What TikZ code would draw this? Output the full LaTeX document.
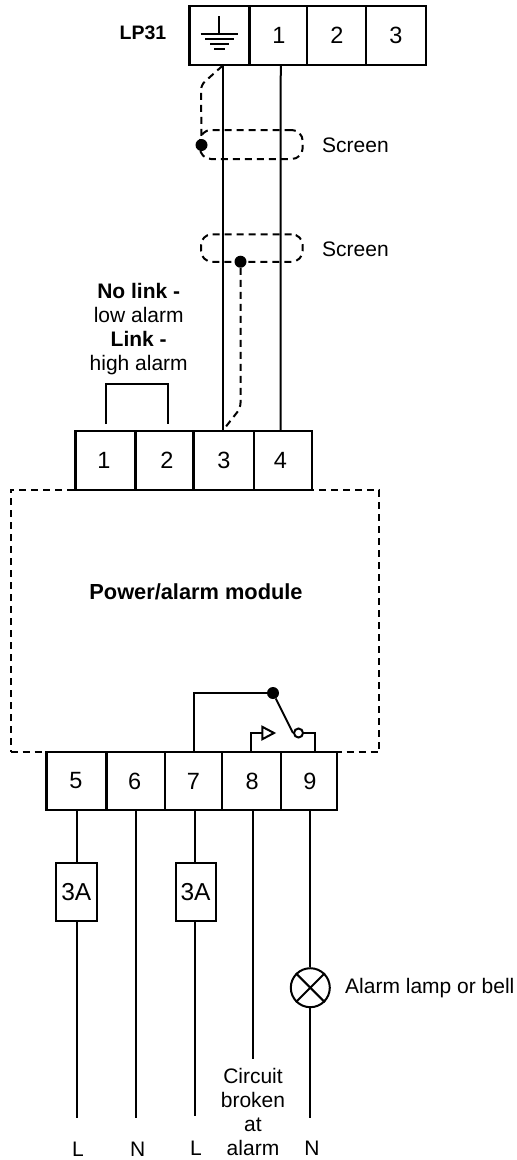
\documentclass[tikz,border=0pt]{standalone}
\usepackage{fontspec}
\setmainfont{Liberation Sans}
\tikzset{
  wire/.style={line width=2pt,line cap=butt},
  dashwire/.style={line width=2pt,dash pattern=on 7pt off 5pt},
  term/.style={draw,fill=white,line width=2.1pt,minimum height=58.5pt,inner sep=0pt,font=\fontsize{23.5}{24}\selectfont},
  fuse/.style={draw,fill=white,line width=2pt,minimum height=58.5pt,minimum width=40pt,inner sep=0pt,font=\fontsize{24.5}{24}\selectfont},
  lab/.style={inner sep=0pt,font=\fontsize{21}{24}\selectfont,align=center},
  screenloop/.style={draw,dashwire,rounded corners=11pt,inner sep=0pt},
  blob/.style={circle,fill=black,draw=none,minimum size=12pt,inner sep=0pt},
  hollow/.style={circle,fill=white,draw=black,line width=2pt,minimum size=9pt,inner sep=0pt},
}
\begin{document}
\begin{tikzpicture}[x=1pt,y=-1pt]
\useasboundingbox (0,0) rectangle (517,1160);
% module outline
\node[draw,dashwire,inner sep=0pt,minimum width=368.5pt,minimum height=262.3pt] (module) at (194.75,620.85) {};
\node[lab,font=\fontsize{21.8}{24}\selectfont\bfseries] (modtext) at (196,592) {Power/alarm module};
% top terminals
\node[term,minimum width=60pt] (tg) at (219.5,35.5) {};
\node[term,minimum width=57.5pt] (t1) at (278.25,35.5) {\kern1.5pt 1};
\node[term,minimum width=58.7pt] (t2) at (336.35,35.5) {\kern1pt 2};
\node[term,minimum width=60pt] (t3) at (395.7,35.5) {\kern.5pt 3};
\node[lab,font=\fontsize{19.5}{24}\selectfont\bfseries] (lp) at (143,33) {LP31};
% earth symbol
\coordinate (e0) at (219.3,16);
\coordinate (e1) at (219.3,34);
\draw[wire,line width=1.7pt] (e0) -- (e1);
\draw[wire,line width=1.7pt] (200.7,34) -- (238.3,34) (205,38.8) -- (234,38.8) (210,43.8) -- (229,43.8) (214,49) -- (225,49);
% mid terminals
\node[term,minimum width=60pt] (m1) at (105.5,460.6) {\kern-3pt 1};
\node[term,minimum width=58pt] (m2) at (164.5,460.6) {\kern5pt 2};
\node[term,minimum width=60.5pt] (m3) at (223.75,460.6) {\kern.5pt 3};
\node[term,minimum width=57.7pt] (m4) at (282.85,460.6) {\kern-5pt 4};
% bottom terminals
\node[term,minimum width=60pt] (b5) at (76.5,781) {\kern-1pt 5};
\node[term,minimum width=58.2pt] (b6) at (135.6,781) {\kern-2pt 6};
\node[term,minimum width=57.6pt] (b7) at (193.5,781) {7};
\node[term,minimum width=58.4pt] (b8) at (251.5,781) {\kern1.5pt 8};
\node[term,minimum width=56.3pt] (b9) at (308.85,781) {\kern2pt 9};
% cable wires
\draw[wire] ([xshift=3.5pt]tg.south) -- ([xshift=-.75pt]m3.north);
\draw[wire] ([xshift=2.5pt]t1.south) -- ([xshift=-2.2pt]m4.north);
% screens
\node[screenloop,minimum width=102.7pt,minimum height=29pt] (s1) at (251.35,144.5) {};
\node[screenloop,minimum width=101.7pt,minimum height=27.5pt] (s2) at (251.85,248) {};
\node[blob] (d1) at (201.5,145) {};
\node[blob] (d2) at (240.5,261.7) {};
\node[lab] (st1) at (355.5,145) {Screen};
\node[lab] (st2) at (355.5,249) {Screen};
% screen drains
\coordinate (c1) at (201,85);
\coordinate (c2) at (240.5,408);
\draw[dashwire,rounded corners=5pt] ([xshift=3pt]tg.south) -- (c1) -- (d1);
\draw[dashwire,rounded corners=5pt] (d2) -- (c2) -- ([xshift=-.75pt]m3.north);
% link
\node[lab] (linklab) at (138.7,329) {\textbf{No link -}\\low alarm\\\textbf{Link -}\\high alarm};
\coordinate (la) at (105.7,424);
\coordinate (lb) at (168.3,424);
\draw[wire] (la) |- (136,384) -| (lb);
% switch
\node[blob] (sw) at (273,693) {};
\node[hollow] (ct) at (298.5,733) {};
\coordinate (tr) at (262.3,733);
\draw[wire] (b7.north) |- (sw);
\draw[wire] (sw) -- (ct.west);
\draw[wire] (ct.east) -| ([xshift=6pt]b9.north);
\draw[wire] ([xshift=-.5pt]b8.north) |- (tr);
\draw[fill=white,line width=2pt,line join=miter] (tr) ++(0,-6.2) -- ++(11.7,6.2) -- ++(-11.7,6.2) -- cycle;
% fuses
\node[fuse,minimum width=41.3pt] (f1) at (76.35,891.8) {3A};
\node[fuse] (f2) at (195.5,891.8) {3A};
\node[circle,draw,line width=2pt,fill=white,minimum size=39pt,inner sep=0pt] (lamp) at (310.3,987.7) {};
\draw[wire] (lamp.45) -- (lamp.225) (lamp.135) -- (lamp.315);
\coordinate (l5) at (77.3,1118);
\coordinate (l6) at (136.3,1118);
\coordinate (l7) at (195.3,1116);
\coordinate (l8) at (253,1059);
\coordinate (l9) at (310.3,1118);
\draw[wire] (b5.south -| l5) -- (f1.north -| l5);
\draw[wire] (f1.south -| l5) -- (l5);
\draw[wire] (b6.south -| l6) -- (l6);
\draw[wire] (b7.south -| l7) -- (f2.north -| l7);
\draw[wire] (f2.south -| l7) -- (l7);
\draw[wire] (b8.south -| l8) -- (l8);
\draw[wire] (b9.south -| l9) -- (lamp.north);
\draw[wire] (lamp.south) -- (l9);
% labels
\node[lab,anchor=west] (lamplab) at (345,988) {Alarm lamp or bell};
\node[lab] (cb) at (253,1112) {Circuit\\broken\\at\\alarm};
\node[lab] (nl1) at (78,1149) {L};
\node[lab] (nn1) at (137.7,1149) {N};
\node[lab] (nl2) at (196,1148) {L};
\node[lab] (nn2) at (312,1148) {N};
\end{tikzpicture}
\end{document}
